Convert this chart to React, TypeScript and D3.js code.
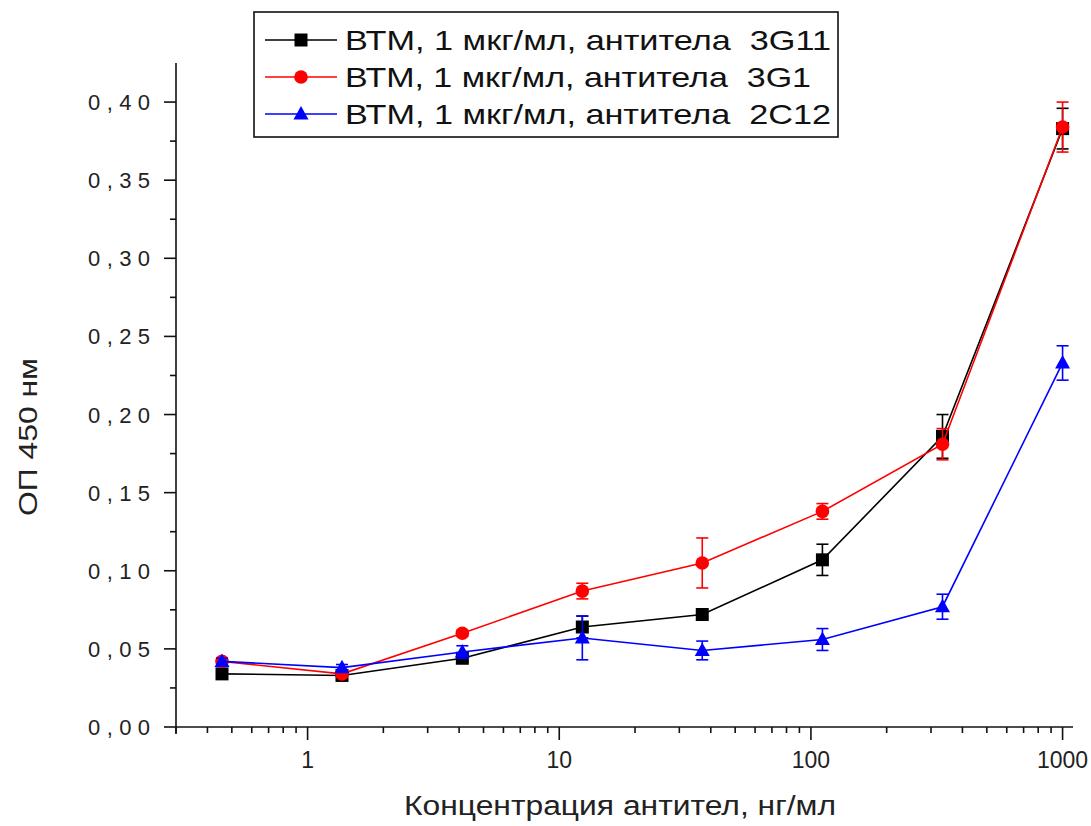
import * as d3 from "d3";

// concentrations, ng/ml (threefold dilutions)
const concentrations = [0.457, 1.37, 4.12, 12.35, 37.0, 111.1, 333.3, 1000];

const seriesNames = [
  "ВТМ, 1 мкг/мл, антитела\u00a0\u00a03G11",
  "ВТМ, 1 мкг/мл, антитела\u00a0\u00a03G1",
  "ВТМ, 1 мкг/мл, антитела\u00a0\u00a02C12",
];

const od3G11 = [0.034, 0.033, 0.044, 0.064, 0.072, 0.107, 0.186, 0.383];
const err3G11 = [0.002, 0.002, 0.002, 0.007, 0.002, 0.010, 0.014, 0.013];

const od3G1 = [0.042, 0.034, 0.060, 0.087, 0.105, 0.138, 0.181, 0.384];
const err3G1 = [0.002, 0.002, 0.002, 0.005, 0.016, 0.005, 0.010, 0.016];

const od2C12 = [0.042, 0.038, 0.048, 0.057, 0.049, 0.056, 0.077, 0.233];
const err2C12 = [0.002, 0.002, 0.004, 0.014, 0.006, 0.007, 0.008, 0.011];

const yTicks = [0, 0.05, 0.1, 0.15, 0.2, 0.25, 0.3, 0.35, 0.4];
const xMajorTicks = [1, 10, 100, 1000];

const FONT = "'Liberation Sans', Arial, sans-serif";

type Shape = "square" | "circle" | "triangle";

const series = [
  { name: seriesNames[0], values: od3G11, errors: err3G11, color: "#000000", shape: "square" as Shape },
  { name: seriesNames[1], values: od3G1, errors: err3G1, color: "#ff0000", shape: "circle" as Shape },
  { name: seriesNames[2], values: od2C12, errors: err2C12, color: "#0000ff", shape: "triangle" as Shape },
];

const Marker = ({ shape, x, y, color }: { shape: Shape; x: number; y: number; color: string }) => {
  if (shape === "square") return <rect x={x - 6.5} y={y - 6.5} width={13} height={13} fill={color} />;
  if (shape === "circle") return <circle cx={x} cy={y} r={6.8} fill={color} />;
  return <path d={`M${x},${y - 8} L${x + 7.5},${y + 5.5} L${x - 7.5},${y + 5.5} Z`} fill={color} />;
};

export default function App() {
  const W = 1091;
  const H = 826;

  const x = d3.scaleLog().domain([0.3, 1100]).range([176, 1073]);
  const y = d3.scaleLinear().domain([0, 0.425]).range([727, 63]);

  // minor ticks: 2..9 within each decade, clipped to the axis
  const xMinor: number[] = [];
  [0.1, 1, 10, 100].forEach((base) => {
    d3.range(2, 10).forEach((k) => {
      const v = base * k;
      if (v > 0.3 && v < 1000) xMinor.push(v);
    });
  });
  const yMinor = d3.range(0.025, 0.4, 0.05);

  const line = d3
    .line<number>()
    .x((_, i) => x(concentrations[i]))
    .y((d) => y(d));

  return (
    <svg
      width={W}
      height={H}
      style={{ position: "absolute", left: 0, top: 0, background: "#fff" }}
      fontFamily={FONT}
    >
      {/* axes */}
      <g stroke="#111" strokeWidth={1.6} fill="none">
        <line x1={176} x2={176} y1={y.range()[1]} y2={734} />
        <line x1={176} x2={x.range()[1]} y1={727} y2={727} />
        {yTicks.map((t) => (
          <line key={"ym" + t} x1={164} x2={176} y1={y(t)} y2={y(t)} />
        ))}
        {yMinor.map((t) => (
          <line key={"yn" + t} x1={170} x2={176} y1={y(t)} y2={y(t)} />
        ))}
        {xMajorTicks.map((t) => (
          <line key={"xm" + t} x1={x(t)} x2={x(t)} y1={727} y2={740} />
        ))}
        {xMinor.map((t) => (
          <line key={"xn" + t} x1={x(t)} x2={x(t)} y1={727} y2={733} />
        ))}
      </g>

      {/* tick labels */}
      <g fill="#222" fontSize={22}>
        {yTicks.map((t) => (
          <text
            key={"yl" + t}
            x={150}
            y={y(t) + 8}
            textAnchor="end"
            textLength={62}
            lengthAdjust="spacing"
          >
            {d3.format(".2f")(t).replace(".", ",")}
          </text>
        ))}
      </g>
      <g fill="#222" fontSize={23}>
        {xMajorTicks.map((t) => (
          <text key={"xl" + t} x={x(t)} y={768} textAnchor="middle">
            {String(t)}
          </text>
        ))}
      </g>

      {/* axis titles */}
      <text
        x={620}
        y={815}
        textAnchor="middle"
        fontSize={27}
        fill="#222"
        textLength={432}
        lengthAdjust="spacingAndGlyphs"
      >
        Концентрация антител, нг/мл
      </text>
      <text
        transform="translate(37,437) rotate(-90)"
        textAnchor="middle"
        fontSize={26}
        fill="#222"
        textLength={158}
        lengthAdjust="spacingAndGlyphs"
      >
        ОП 450 нм
      </text>

      {/* series */}
      {series.map((s) => (
        <g key={s.name}>
          <path d={line(s.values) || ""} fill="none" stroke={s.color} strokeWidth={1.6} />
          <g stroke={s.color} strokeWidth={1.6}>
            {s.values.map((v, i) => {
              const cx = x(concentrations[i]);
              const top = y(v + s.errors[i]);
              const bot = y(v - s.errors[i]);
              return (
                <g key={i}>
                  <line x1={cx} x2={cx} y1={top} y2={bot} />
                  <line x1={cx - 6} x2={cx + 6} y1={top} y2={top} />
                  <line x1={cx - 6} x2={cx + 6} y1={bot} y2={bot} />
                </g>
              );
            })}
          </g>
          {s.values.map((v, i) => (
            <Marker key={i} shape={s.shape} x={x(concentrations[i])} y={y(v)} color={s.color} />
          ))}
        </g>
      ))}

      {/* legend */}
      <g>
        <rect x={254} y={12} width={584} height={125} fill="#fff" stroke="#111" strokeWidth={1.6} />
        {series.map((s, i) => {
          const ly = 40 + i * 37;
          return (
            <g key={"lg" + i}>
              <line x1={265} x2={337} y1={ly} y2={ly} stroke={s.color} strokeWidth={1.6} />
              <Marker shape={s.shape} x={301} y={ly} color={s.color} />
              <text
                x={345}
                y={ly + 10}
                fontSize={28}
                fill="#111"
                textLength={i === 1 ? 466 : 486}
                lengthAdjust="spacingAndGlyphs"
              >
                {s.name}
              </text>
            </g>
          );
        })}
      </g>
    </svg>
  );
}
